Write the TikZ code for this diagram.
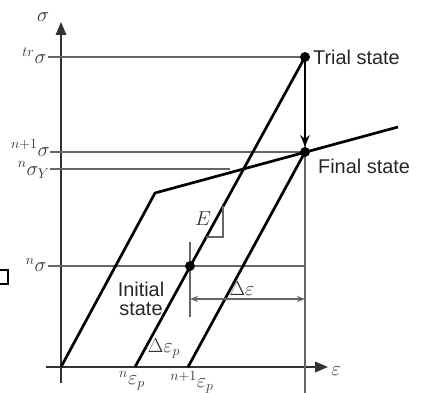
\documentclass[tikz,border=0pt]{standalone}
\usepackage{amsmath}
\usepackage{fontspec}
\setsansfont{Liberation Sans}
\usepackage{tikz}
\usetikzlibrary{arrows.meta,positioning,calc}

\begin{document}
\begin{tikzpicture}[
        x=0.03cm, y=-0.03cm,
        axisline/.style={draw=black!80, line width=1.3pt, -{Triangle[length=11pt,width=9pt]}},
        guide/.style={draw=black!60, line width=0.9pt},
        loadline/.style={line width=2.3pt, line join=round},
        statept/.style={circle, fill, inner sep=0pt, minimum size=8.5pt},
        txt/.style={font=\sffamily\fontsize{17}{16.5}\selectfont, text=black!85},
        mlbl/.style={font=\fontsize{18.5}{20}\selectfont, text=black!80, inner sep=1pt}
    ]
    \useasboundingbox (0,0) rectangle (421,393);

    % Key points
    \coordinate (origin) at (61,367);
    \coordinate (yieldpt) at (155,193);
    \coordinate (hardend) at (398,127);
    \coordinate (epsn) at (135,367);
    \coordinate (epsnp) at (188,367);
    \coordinate (trialpt) at (305,57);
    \coordinate (finalpt) at (305,152);
    \coordinate (initpt) at (190,266);

    % Axes
    \coordinate (sigbot) at (61,383);
    \coordinate (sigtop) at (61,22);
    \coordinate (epsleft) at (46,367);
    \coordinate (epsright) at (328,367);
    \draw[axisline] (sigbot) -- (sigtop);
    \draw[axisline] (epsleft) -- (epsright);
    \node[mlbl] (sigma) at (43,17) {$\sigma$};
    \node[mlbl, anchor=west] (eps) at (330,371) {$\varepsilon$};

    % Guide lines
    \coordinate (trleft) at (48,57);
    \coordinate (npleft) at (50,152);
    \coordinate (syleft) at (50,169);
    \coordinate (syright) at (230,169);
    \coordinate (nleft) at (48,266);
    \coordinate (nright) at (305,266);
    \coordinate (vbot) at (305,393);
    \draw[guide] (trleft) -- (trialpt);
    \draw[guide] (npleft) -- (finalpt);
    \draw[guide] (syleft) -- (syright);
    \draw[guide] (nleft) -- (nright);
    \draw[guide] (trialpt) -- (vbot);

    \node[mlbl, anchor=east] (sigtr) at ($(trleft)+(0,-1)$) {${}^{tr}\sigma$};
    \node[mlbl, anchor=east] (signp) at ($(npleft)+(1,-4)$) {${}^{n+1}\sigma$};
    \node[mlbl, anchor=east] (sigy) at ($(syleft)+(1,1)$) {${}^{n}\sigma_Y$};
    \node[mlbl, anchor=east] (sign) at ($(nleft)+(0,-1)$) {${}^{n}\sigma$};

    % Stress paths
    \draw[loadline] (origin) -- (yieldpt) -- (hardend);
    \draw[loadline] (epsn) -- (trialpt);
    \draw[loadline] (epsnp) -- (finalpt);

    \node[mlbl, anchor=north] (epsnlbl) at ($(epsn)+(-3,3)$) {${}^{n}\varepsilon_p$};
    \node[mlbl, anchor=north] (epsnplbl) at ($(epsnp)+(4,3)$) {${}^{n+1}\varepsilon_p$};
    \node[mlbl] (depsp) at (164,348) {$\Delta\varepsilon_p$};

    % Slope mark
    \coordinate (slopea) at (206,237);
    \coordinate (slopeb) at (223,237);
    \coordinate (slopec) at (223,206);
    \draw[guide] (slopea) -- (slopeb) -- (slopec);
    \node[mlbl] (modE) at (203,219) {$E$};

    % Strain increment
    \coordinate (ticktop) at (190,242);
    \coordinate (tickbot) at (190,317);
    \coordinate (incl) at (190,299);
    \coordinate (incr) at (305,299);
    \draw[guide] (ticktop) -- (tickbot);
    \draw[guide, {Stealth[length=7pt]}-{Stealth[length=7pt]}] (incl) -- (incr);
    \node[mlbl] (deps) at (242,289) {$\Delta\varepsilon$};

    % States
    \node[statept] (trial) at (trialpt) {};
    \node[statept] (final) at (finalpt) {};
    \node[statept] (init) at (initpt) {};
    \draw[loadline, -{Stealth[length=10pt,width=8pt]}] (trial) -- (final);

    \node[txt, anchor=west] (triallbl) at (309,57) {Trial state};
    \node[txt, anchor=west] (finallbl) at (314,166) {Final state};
    \node[txt, align=center] (initlbl) at (141,299) {Initial\\state};

    % Cut-off mark at the left edge
    \draw[line width=2pt] (-4,270) rectangle (8,284);

\end{tikzpicture}
\end{document}
